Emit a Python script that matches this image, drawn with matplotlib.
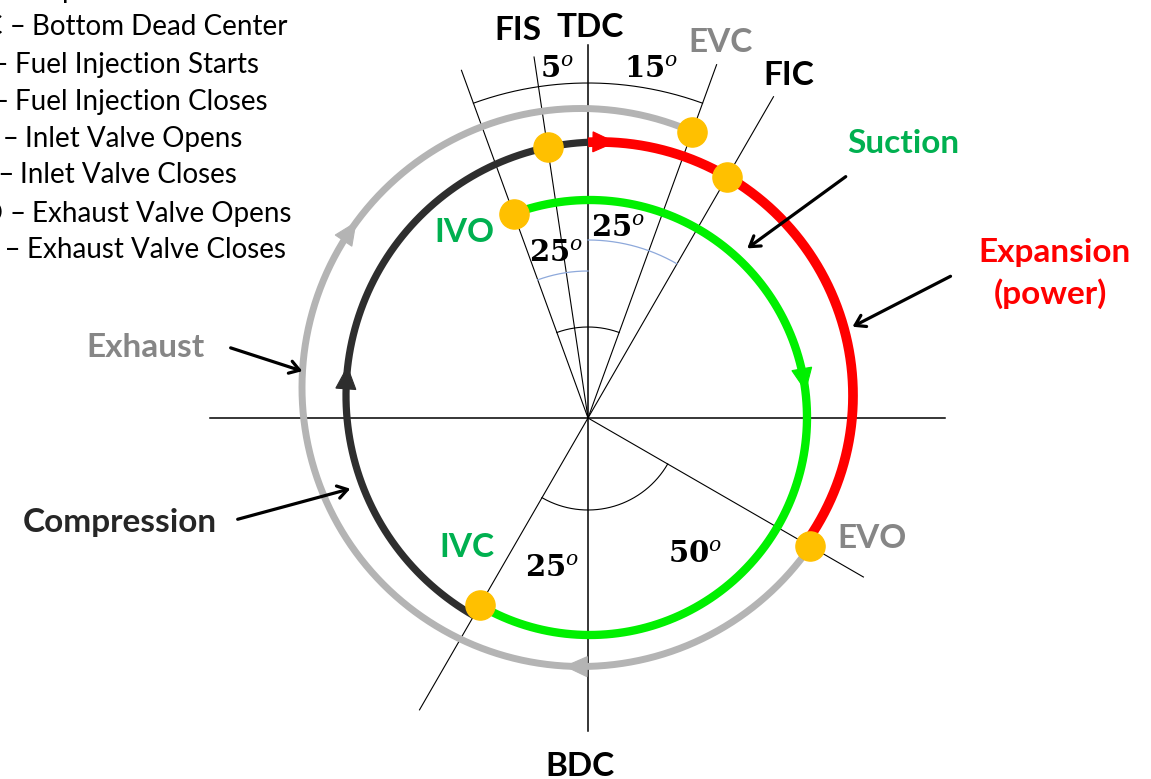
import numpy as np
import matplotlib
matplotlib.use("Agg")
import matplotlib.pyplot as plt
from matplotlib.patches import Polygon

plt.rcParams["mathtext.fontset"] = "dejavuserif"
plt.rcParams["font.family"] = ["Lato", "DejaVu Sans"]

# crank events, degrees clockwise from TDC, as drawn in the diagram
EVENTS = ["FIS", "FIC", "IVO", "IVC", "EVO", "EVC"]
EVENT_ANGLE = [-8.5, 30, -20, 210, 120, 20]
# guide rays: angle and length (px)
RAY_ANGLE = [0, 90, 180, 270, -8.5, -20, 20, 30, 210, 120]
RAY_LEN = [373, 357, 313, 378, 365, 370, 376, 371, 337, 318]
# angle labels written on the diagram
ANGLE_TEXT = ["5", "15", "25", "25", "25", "50"]
ANGLE_POS = [(557, 78), (651, 78), (556, 262), (618, 237), (552, 577), (695, 563)]

LEGEND_ABBR = ["TDC", "BDC", "FIS", "FIC", "IVO", "IVC", "EVO", "EVC"]
LEGEND_TEXT = ["Top Dead Center", "Bottom Dead Center", "Fuel Injection Starts",
               "Fuel Injection Closes", "Inlet Valve Opens", "Inlet Valve Closes",
               "Exhaust Valve Opens", "Exhaust Valve Closes"]
LEGEND_X = [30, 32, 15, 15, 25, 20, 32, 27]
LEGEND_Y = [-2, 35, 73, 110, 147, 183, 222, 258]

GRAY = "#B4B4B4"
DARK = "#2E2E2E"
RED = "#FF0000"
GREEN = "#00F000"
ORANGE = "#FFC000"
TXT_GREEN = "#00B050"
TXT_GRAY = "#868686"
BLUE = "#8EA9DB"

O = np.array([588.0, 418.0])
GRAY_C, GRAY_R = np.array([581.0, 387.5]), 279.0
RUN_C, RUN_R = np.array([599.5, 395.5]), 253.5
GREEN_C, GREEN_R = np.array([589.5, 417.5]), 217.5

ang = dict(zip(EVENTS, EVENT_ANGLE))


def unit(deg):
    t = np.radians(deg)
    return np.array([np.sin(t), -np.cos(t)])


def hit(deg, c, r):
    d = unit(deg)
    w = O - c
    b = d @ w
    t = -b + np.sqrt(b * b - (w @ w - r * r))
    return O + t * d


def phase(p, c):
    return np.degrees(np.arctan2(p[0] - c[0], c[1] - p[1])) % 360


def arc(ax, c, r, a0, a1, **kw):
    if a1 < a0:
        a1 += 360
    a = np.radians(np.linspace(a0, a1, 300))
    ax.plot(c[0] + r * np.sin(a), c[1] - r * np.cos(a), **kw)


def tri(ax, c, r, a, color, L=22, W=20):
    p = c + r * unit(a)
    t = np.radians(a)
    tg = np.array([np.cos(t), np.sin(t)])
    n = unit(a)
    pts = [p + tg * L / 2, p - tg * L / 2 + n * W / 2, p - tg * L / 2 - n * W / 2]
    ax.add_patch(Polygon(pts, closed=True, facecolor=color, edgecolor=color,
                         lw=0.8, zorder=4))


fig = plt.figure(figsize=(11.51, 7.79), dpi=100)
ax = fig.add_axes([0, 0, 1, 1])
ax.set_xlim(0, 1151)
ax.set_ylim(779, 0)
ax.axis("off")

# ---- guide lines -----------------------------------------------------------
for a, L in zip(RAY_ANGLE, RAY_LEN):
    e = O + L * unit(a)
    lw = 1.1 if a % 90 == 0 else 0.8
    ax.plot([O[0], e[0]], [O[1], e[1]], color="black", lw=lw, zorder=1)

arc(ax, O, 335, -20, 20, color="black", lw=0.8, zorder=1)
arc(ax, O, 91, -20, 20, color="black", lw=0.8, zorder=1)
arc(ax, O, 92, 120, 210, color="black", lw=0.8, zorder=1)
arc(ax, O, 147, -20, 0, color=BLUE, lw=0.9, zorder=1)
arc(ax, O, 178, 0, 30, color=BLUE, lw=0.9, zorder=1)

# ---- strokes ---------------------------------------------------------------
p_evo_g = hit(ang["EVO"], GRAY_C, GRAY_R)
p_evc_g = hit(ang["EVC"], GRAY_C, GRAY_R)
arc(ax, GRAY_C, GRAY_R, phase(p_evo_g, GRAY_C), phase(p_evc_g, GRAY_C),
    color=GRAY, lw=5.0, solid_capstyle="butt", zorder=2)

p_tdc = hit(0, RUN_C, RUN_R)
p_evo_r = hit(ang["EVO"], RUN_C, RUN_R)
p_ivc_r = hit(ang["IVC"], RUN_C, RUN_R)
arc(ax, RUN_C, RUN_R, phase(p_tdc, RUN_C), phase(p_evo_r, RUN_C),
    color=RED, lw=7.0, solid_capstyle="butt", zorder=2)
arc(ax, RUN_C, RUN_R, phase(p_ivc_r, RUN_C), phase(p_tdc, RUN_C),
    color=DARK, lw=5.2, solid_capstyle="butt", zorder=2)

p_ivo = hit(ang["IVO"], GREEN_C, GREEN_R)
p_ivc = hit(ang["IVC"], GREEN_C, GREEN_R)
arc(ax, GREEN_C, GREEN_R, phase(p_ivo, GREEN_C), phase(p_ivc, GREEN_C),
    color=GREEN, lw=6.0, solid_capstyle="butt", zorder=2)

# direction marks (clockwise)
tri(ax, RUN_C, RUN_R, 1.0, RED)
tri(ax, GREEN_C, GREEN_R, 80, GREEN)
tri(ax, RUN_C, RUN_R, 274, DARK)
tri(ax, GRAY_C, GRAY_R, 304, GRAY)
tri(ax, GRAY_C, GRAY_R, 181, GRAY)

# event dots
dots = [hit(ang["FIS"], RUN_C, RUN_R), hit(ang["FIC"], RUN_C, RUN_R),
        p_ivo, p_ivc, p_evo_g, p_evc_g]
for p in dots:
    ax.plot(p[0], p[1], "o", ms=21, color=ORANGE, mec=ORANGE, zorder=5)

# ---- labels ----------------------------------------------------------------
lab = dict(fontsize=24, fontweight="bold", ha="center", va="baseline")
ax.text(590, 37, "TDC", color="black", **lab)
ax.text(518, 40, "FIS", color="black", **lab)
ax.text(721, 52, "EVC", color=TXT_GRAY, **lab)
ax.text(789, 85, "FIC", color="black", **lab)
ax.text(464, 242, "IVO", color=TXT_GREEN, **lab)
ax.text(467, 557, "IVC", color=TXT_GREEN, **lab)
ax.text(872, 548, "EVO", color=TXT_GRAY, **lab)
ax.text(580, 776, "BDC", color="black", **lab)
ax.text(903, 153, "Suction", color=TXT_GREEN, **lab)
ax.text(1055, 262, "Expansion", color=RED, **lab)
ax.text(1050, 304, "(power)", color=RED, **lab)
ax.text(146, 357, "Exhaust", color=TXT_GRAY, **lab)
ax.text(120, 532, "Compression", color="#262626", **lab)

for t, (x, y) in zip(ANGLE_TEXT, ANGLE_POS):
    ax.text(x, y, r"$\mathbf{%s}^{\mathit{o}}$" % t, fontsize=21,
            ha="center", va="baseline")

arrow = dict(arrowstyle="->,head_length=0.7,head_width=0.45", color="black", lw=2.3)
ax.annotate("", xy=(745, 250), xytext=(848, 175), arrowprops=arrow)
ax.annotate("", xy=(850, 328), xytext=(953, 275), arrowprops=arrow)
ax.annotate("", xy=(305, 372), xytext=(228, 347), arrowprops=arrow)
ax.annotate("", xy=(353, 488), xytext=(235, 520), arrowprops=arrow)

# legend (cut off at the left edge in the original)
for ab, txt, x, y in zip(LEGEND_ABBR, LEGEND_TEXT, LEGEND_X, LEGEND_Y):
    ax.text(x - 6, y, ab + " \u2013", fontsize=20, ha="right", va="baseline")
    ax.text(x, y, txt, fontsize=20, ha="left", va="baseline")

fig.savefig("out.png", dpi=100)
